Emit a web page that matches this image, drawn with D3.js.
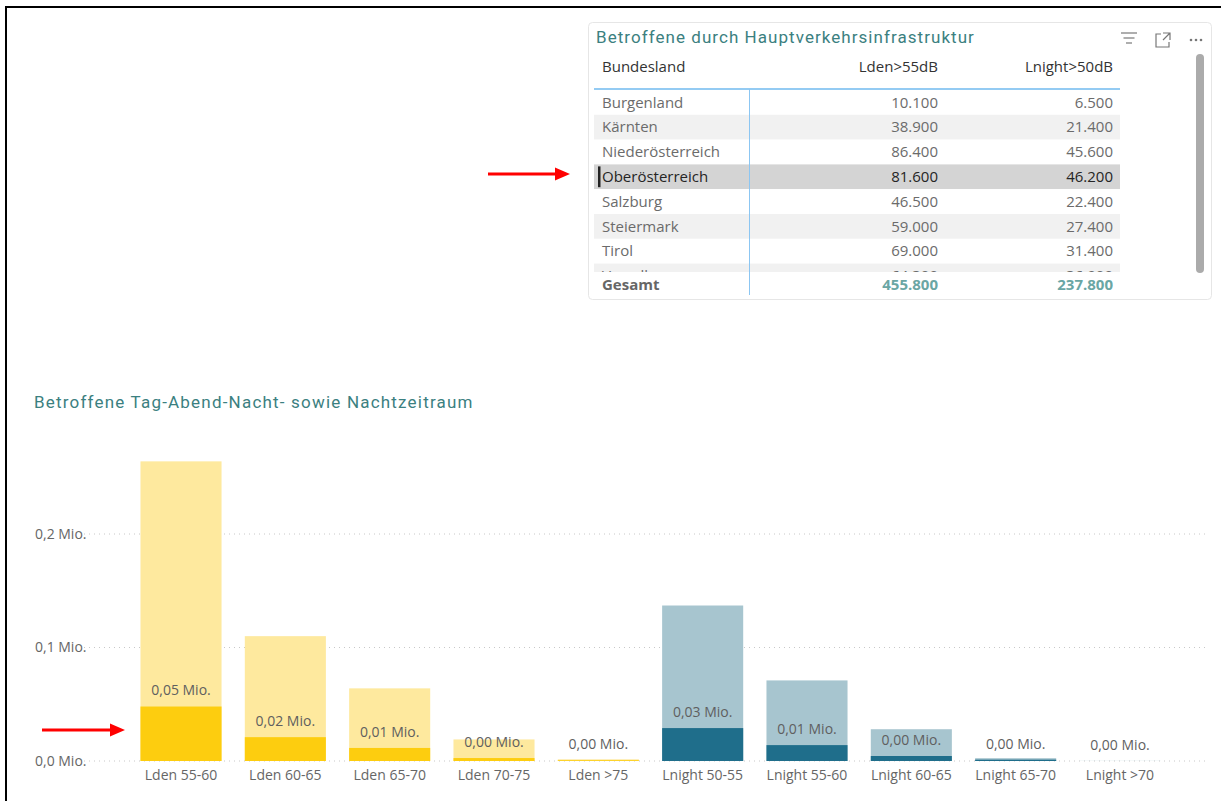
<!DOCTYPE html>
<html>
<head>
<meta charset="utf-8">
<script src="https://cdn.jsdelivr.net/npm/d3@7"></script>
<style>
  body { margin: 0; background: #fff; }
  svg { display: block; }
  .ui { font-family: "Open Sans", "Noto Sans", sans-serif; }
  .title { font-family: Roboto, "Noto Sans", sans-serif; fill: #3b8080; font-size: 17px; }
</style>
</head>
<body>
<svg id="chart" width="1221" height="801"></svg>
<script>
// Bar chart data (Mio.)
const categories = ['Lden 55-60', 'Lden 60-65', 'Lden 65-70', 'Lden 70-75', 'Lden >75',
                    'Lnight 50-55', 'Lnight 55-60', 'Lnight 60-65', 'Lnight 65-70', 'Lnight >70'];
const totalValues = [0.264, 0.110, 0.064, 0.019, 0.0015, 0.137, 0.071, 0.028, 0.0025, 0.0001];
const highlightValues = [0.048, 0.021, 0.0115, 0.0026, 0.0007, 0.029, 0.014, 0.0044, 0.0012, 0];
const yTicks = [0, 0.1, 0.2];

// Table data
const tableHeader = ['Bundesland', 'Lden>55dB', 'Lnight>50dB'];
const states = ['Burgenland', 'Kärnten', 'Niederösterreich', 'Oberösterreich', 'Salzburg', 'Steiermark', 'Tirol', 'Vorarlberg'];
const ldenValues = [10100, 38900, 86400, 81600, 46500, 59000, 69000, 64300];
const lnightValues = [6500, 21400, 45600, 46200, 22400, 27400, 31400, 36900];
const totals = ['Gesamt', 455800, 237800];
const selectedState = 'Oberösterreich';

const COLORS = {
    lden: { light: '#fee99e', dark: '#fdcd0f' },
    lnight: { light: '#a7c5cf', dark: '#1f6e8b' }
};

const de = d3.formatLocale({ decimal: ',', thousands: '.', grouping: [3], currency: ['', '€'] });
const fmtThousands = de.format(',');
const fmtMio2 = v => de.format('.2f')(v) + ' Mio.';
const fmtMio1 = v => de.format('.1f')(v) + ' Mio.';

const svg = d3.select('#chart');

// Outer frame (top and left)
svg.append('path')
    .attr('d', 'M6,801 V7 H1221')
    .attr('fill', 'none')
    .attr('stroke', '#000')
    .attr('stroke-width', 2);

// ---------- Table card ----------
const card = svg.append('g').attr('class', 'ui');
card.append('rect')
    .attr('x', 588.5).attr('y', 22.5)
    .attr('width', 623).attr('height', 277)
    .attr('rx', 4)
    .attr('fill', '#fff')
    .attr('stroke', '#e6e6e6');

card.append('text')
    .attr('class', 'title')
    .attr('x', 596).attr('y', 43)
    .attr('letter-spacing', '1.05px')
    .text('Betroffene durch Hauptverkehrsinfrastruktur');

// header icons
const icons = card.append('g').attr('stroke', '#777').attr('fill', 'none').attr('stroke-width', 1.2);
[[1121, 1137, 33], [1123.5, 1134.5, 38], [1126, 1132, 43]].forEach(([x1, x2, yy]) => {
    icons.append('line').attr('x1', x1).attr('x2', x2).attr('y1', yy).attr('y2', yy);
});
icons.append('path').attr('d', 'M1161,34 H1156 V47 H1169 V42');
icons.append('path').attr('d', 'M1163,33 H1170 V40 M1170,33 L1163,40');
[1191, 1196, 1201].forEach(cx => {
    card.append('circle').attr('cx', cx).attr('cy', 40).attr('r', 1.3).attr('fill', '#777');
});

const colX = [602, 938, 1113];
const rowX0 = 594, rowX1 = 1120;
const rowTop = 90, rowH = 24.8;

// header
card.selectAll('text.head')
    .data(tableHeader)
    .join('text')
    .attr('class', 'head')
    .attr('x', (d, i) => colX[i])
    .attr('y', 72)
    .attr('text-anchor', (d, i) => i === 0 ? 'start' : 'end')
    .attr('font-size', '15px')
    .attr('fill', '#333')
    .text(d => d);

// rows (clipped at the bottom, as in a scrolled table)
svg.append('clipPath').attr('id', 'rowclip')
    .append('rect').attr('x', rowX0).attr('y', rowTop).attr('width', rowX1 - rowX0).attr('height', 182);

const rows = card.append('g').attr('clip-path', 'url(#rowclip)')
    .selectAll('g.row')
    .data(states)
    .join('g')
    .attr('class', 'row')
    .attr('transform', (d, i) => `translate(0,${rowTop + i * rowH})`);

rows.append('rect')
    .attr('x', rowX0).attr('width', rowX1 - rowX0)
    .attr('height', rowH)
    .attr('fill', (d, i) => d === selectedState ? '#d4d4d4' : (i % 2 === 1 ? '#f1f1f1' : '#fff'));

rows.filter(d => d === selectedState)
    .append('rect')
    .attr('x', 598).attr('y', 2).attr('width', 2.5).attr('height', rowH - 4)
    .attr('fill', '#222');

rows.each(function (d, i) {
    const g = d3.select(this);
    const vals = [d, fmtThousands(ldenValues[i]), fmtThousands(lnightValues[i])];
    vals.forEach((v, j) => {
        g.append('text')
            .attr('x', colX[j])
            .attr('y', 17.5)
            .attr('text-anchor', j === 0 ? 'start' : 'end')
            .attr('font-size', '15px')
            .attr('fill', d === selectedState ? '#252525' : '#6b6b6b')
            .text(v);
    });
});

// header separator + column divider
card.append('line')
    .attr('x1', rowX0).attr('x2', rowX1).attr('y1', 89).attr('y2', 89)
    .attr('stroke', '#94cbf3').attr('stroke-width', 2);
card.append('line')
    .attr('x1', 749.5).attr('x2', 749.5).attr('y1', 89).attr('y2', 295)
    .attr('stroke', '#8cc6f2').attr('stroke-width', 1);

// totals
card.selectAll('text.total')
    .data(totals)
    .join('text')
    .attr('class', 'total')
    .attr('x', (d, i) => colX[i])
    .attr('y', 290)
    .attr('text-anchor', (d, i) => i === 0 ? 'start' : 'end')
    .attr('font-size', '15px')
    .attr('font-weight', 700)
    .attr('fill', (d, i) => i === 0 ? '#666' : '#6aa6a4')
    .text(d => typeof d === 'number' ? fmtThousands(d) : d);

// scrollbar
card.append('rect')
    .attr('x', 1196).attr('y', 54).attr('width', 8).attr('height', 219)
    .attr('rx', 4).attr('fill', '#ababab');

// ---------- Bar chart ----------
svg.append('text')
    .attr('class', 'title')
    .attr('x', 34).attr('y', 408)
    .attr('letter-spacing', '1.2px')
    .text('Betroffene Tag-Abend-Nacht- sowie Nachtzeitraum');

const x = d3.scaleBand()
    .domain(categories)
    .range([129, 1172])
    .paddingInner(0.223)
    .paddingOuter(0.11);

const y = d3.scaleLinear()
    .domain([0, 0.27])
    .range([761, 761 - 0.27 * 1135]);

const chart = svg.append('g').attr('class', 'ui');

// gridlines + y labels
chart.selectAll('line.grid')
    .data(yTicks)
    .join('line')
    .attr('class', 'grid')
    .attr('x1', 84).attr('x2', 1205)
    .attr('y1', d => y(d)).attr('y2', d => y(d))
    .attr('stroke', '#c8c8c8')
    .attr('stroke-dasharray', '1,4');

chart.selectAll('text.ytick')
    .data(yTicks)
    .join('text')
    .attr('class', 'ytick')
    .attr('x', 35)
    .attr('y', d => y(d))
    .attr('dy', '0.35em')
    .attr('font-size', '14px')
    .attr('fill', '#666')
    .text(fmtMio1);

const groupOf = c => c.startsWith('Lden') ? COLORS.lden : COLORS.lnight;

// total bars
chart.selectAll('rect.total')
    .data(categories)
    .join('rect')
    .attr('class', 'total')
    .attr('x', d => x(d))
    .attr('width', x.bandwidth())
    .attr('y', (d, i) => y(totalValues[i]))
    .attr('height', (d, i) => y(0) - y(totalValues[i]))
    .attr('fill', d => groupOf(d).light);

// highlighted bars
chart.selectAll('rect.hl')
    .data(categories)
    .join('rect')
    .attr('class', 'hl')
    .attr('x', d => x(d))
    .attr('width', x.bandwidth())
    .attr('y', (d, i) => y(highlightValues[i]))
    .attr('height', (d, i) => y(0) - y(highlightValues[i]))
    .attr('fill', d => groupOf(d).dark);

// data labels
chart.selectAll('text.lbl')
    .data(categories)
    .join('text')
    .attr('class', 'lbl')
    .attr('x', d => x(d) + x.bandwidth() / 2)
    .attr('y', (d, i) => y(highlightValues[i]) - 16)
    .attr('dy', '0.35em')
    .attr('text-anchor', 'middle')
    .attr('font-size', '14px')
    .attr('fill', '#5f5f5f')
    .text((d, i) => fmtMio2(highlightValues[i]));

// category labels
chart.selectAll('text.cat')
    .data(categories)
    .join('text')
    .attr('class', 'cat')
    .attr('x', d => x(d) + x.bandwidth() / 2)
    .attr('y', 775)
    .attr('dy', '0.35em')
    .attr('text-anchor', 'middle')
    .attr('font-size', '14px')
    .attr('fill', '#666')
    .text(d => d);

// ---------- Red arrows ----------
function arrow(x1, x2, yy) {
    svg.append('line')
        .attr('x1', x1).attr('x2', x2 - 14).attr('y1', yy).attr('y2', yy)
        .attr('stroke', '#ff0000').attr('stroke-width', 3);
    svg.append('path')
        .attr('d', `M${x2 - 15},${yy - 6.5} L${x2},${yy} L${x2 - 15},${yy + 6.5} Z`)
        .attr('fill', '#ff0000');
}
arrow(488, 570, 174);
arrow(42, 125, 730);
</script>
</body>
</html>
